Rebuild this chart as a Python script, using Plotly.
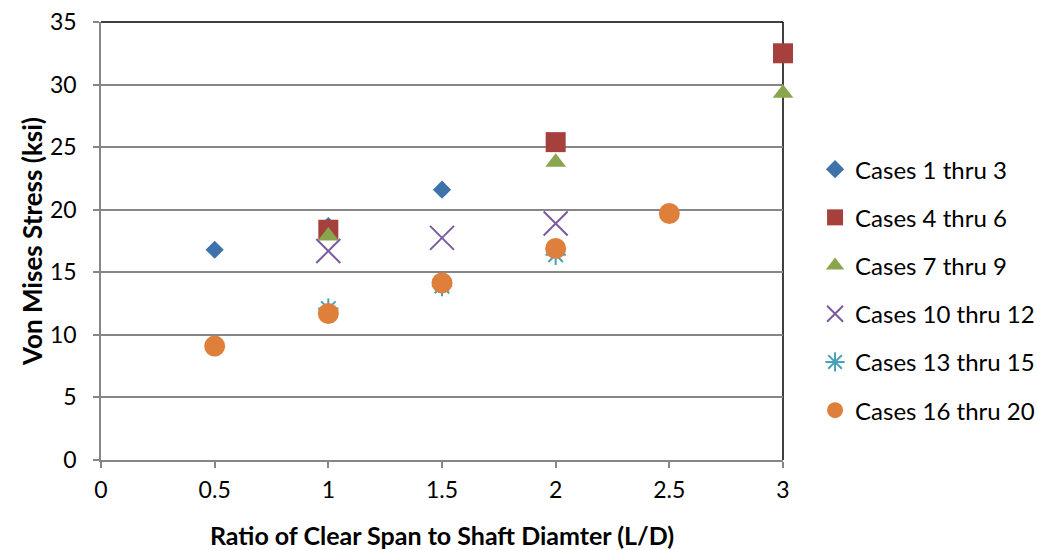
import plotly.graph_objects as go

# L/D ratios and von Mises stresses (ksi) for each case group
ld_1_3 = [0.5, 1.0, 1.5]
vm_1_3 = [16.8, 18.7, 21.6]

ld_4_6 = [1.0, 2.0, 3.0]
vm_4_6 = [18.4, 25.4, 32.5]

ld_7_9 = [1.0, 2.0, 3.0]
vm_7_9 = [17.9, 23.8, 29.3]

ld_10_12 = [1.0, 1.5, 2.0]
vm_10_12 = [16.7, 17.75, 18.9]

ld_13_15 = [1.0, 1.5, 2.0]
vm_13_15 = [12.1, 13.9, 16.4]

ld_16_20 = [0.5, 1.0, 1.5, 2.0, 2.5]
vm_16_20 = [9.1, 11.7, 14.15, 16.9, 19.7]

x_ticks = [0, 0.5, 1, 1.5, 2, 2.5, 3]
x_tick_text = ["0", "0.5", "1", "1.5", "2", "2.5", "3"]
y_ticks = [0, 5, 10, 15, 20, 25, 30, 35]

FONT = "Lato"

series = [
    ("Cases 1 thru 3", ld_1_3, vm_1_3, dict(symbol="diamond", size=14, color="#3F72AB")),
    ("Cases 4 thru 6", ld_4_6, vm_4_6, dict(symbol="square", size=20, color="#A6403D")),
    ("Cases 7 thru 9", ld_7_9, vm_7_9, dict(symbol="triangle-up", size=18, color="#8AA64D")),
    ("Cases 10 thru 12", ld_10_12, vm_10_12,
     dict(symbol="x-thin", size=24, color="#7A5C9E", line=dict(color="#7A5C9E", width=2))),
    ("Cases 13 thru 15", ld_13_15, vm_13_15,
     dict(symbol="asterisk-open", size=17, color="#45A0B8", line=dict(color="#45A0B8", width=2))),
    ("Cases 16 thru 20", ld_16_20, vm_16_20, dict(symbol="circle", size=21, color="#DE803C")),
]

fig = go.Figure()
for i, (name, xs, ys, mk) in enumerate(series):
    fig.add_trace(go.Scatter(
        x=xs, y=ys, mode="markers", name=name, marker=mk,
        legendgroup=f"g{i}", cliponaxis=False,
    ))

axis_common = dict(
    showline=True, linecolor="#868686", linewidth=1.5,
    ticks="outside", ticklen=6, tickcolor="#868686", tickwidth=1.5,
    tickfont=dict(family=FONT, size=23, color="#000000"),
    zeroline=False,
)

fig.update_xaxes(
    range=[0, 3], tickvals=x_ticks, ticktext=x_tick_text, showgrid=False,
    ticklabelstandoff=3,
    title=dict(text="<b>Ratio of Clear Span to Shaft Diamter (L/D)</b>",
               font=dict(family=FONT, size=25, color="#000000"), standoff=25),
    **axis_common,
)
fig.update_yaxes(
    range=[0, 35], tickvals=y_ticks, showgrid=True, gridcolor="#868686", gridwidth=1.5,
    ticklabelstandoff=12,
    title=dict(text="<b>Von Mises Stress (ksi)</b>",
               font=dict(family=FONT, size=26, color="#000000"), standoff=0),
    **axis_common,
)

# dark frame on the top and right edges of the plot area
fig.add_shape(type="line", xref="paper", yref="paper", x0=0, x1=1, y0=1, y1=1,
              line=dict(color="#000000", width=1.5), layer="above")
fig.add_shape(type="line", xref="paper", yref="paper", x0=1, x1=1, y0=0, y1=1,
              line=dict(color="#000000", width=1.5), layer="below")

fig.update_layout(
    width=1037, height=550,
    margin=dict(l=101, r=254, t=22, b=90, autoexpand=False),
    paper_bgcolor="#FFFFFF", plot_bgcolor="#FFFFFF",
    font=dict(family=FONT, color="#000000"),
    legend=dict(
        x=1.047, xanchor="left", y=0.388, yanchor="middle",
        font=dict(family=FONT, size=24, color="#000000"),
        tracegroupgap=14, itemwidth=30,
        bgcolor="rgba(0,0,0,0)",
    ),
)

fig.write_html("out.html")
